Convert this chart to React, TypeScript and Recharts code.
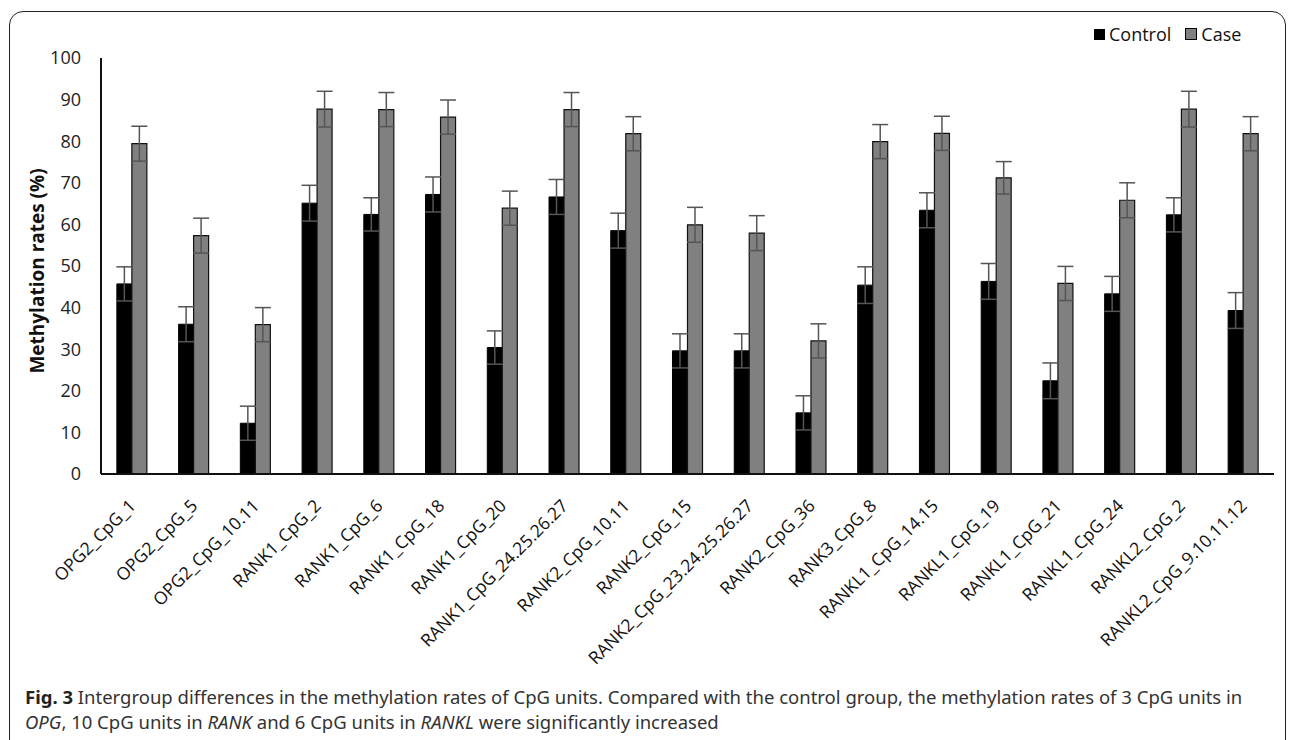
import React from 'react';
import { BarChart, Bar, XAxis, YAxis, ErrorBar } from 'recharts';

const categories = [
  'OPG2_CpG_1', 'OPG2_CpG_5', 'OPG2_CpG_10.11', 'RANK1_CpG_2', 'RANK1_CpG_6', 'RANK1_CpG_18',
  'RANK1_CpG_20', 'RANK1_CpG_24.25.26.27', 'RANK2_CpG_10.11', 'RANK2_CpG_15', 'RANK2_CpG_23.24.25.26.27',
  'RANK2_CpG_36', 'RANK3_CpG_8', 'RANKL1_CpG_14.15', 'RANKL1_CpG_19', 'RANKL1_CpG_21', 'RANKL1_CpG_24',
  'RANKL2_CpG_2', 'RANKL2_CpG_9.10.11.12',
];
const controlValues = [45.7, 36.0, 12.2, 65.1, 62.4, 67.2, 30.4, 66.6, 58.5, 29.6, 29.6, 14.7, 45.4, 63.4, 46.3, 22.4, 43.3, 62.3, 39.3];
const caseValues = [79.4, 57.3, 35.9, 87.7, 87.6, 85.8, 63.9, 87.6, 81.8, 59.9, 57.9, 32.0, 79.9, 81.9, 71.2, 45.8, 65.8, 87.7, 81.8];
const controlErrors = [4.1, 4.2, 4.1, 4.3, 4.0, 4.2, 4.0, 4.2, 4.2, 4.1, 4.1, 4.1, 4.4, 4.2, 4.3, 4.3, 4.2, 4.1, 4.3];
const caseErrors = [4.2, 4.2, 4.1, 4.3, 4.1, 4.1, 4.1, 4.1, 4.1, 4.2, 4.2, 4.1, 4.1, 4.1, 3.9, 4.1, 4.2, 4.3, 4.1];
const yTicks = [0, 10, 20, 30, 40, 50, 60, 70, 80, 90, 100];
const seriesNames = ['Control', 'Case'];

const data = categories.map((name, i) => ({
  name,
  control: controlValues[i],
  controlErr: controlErrors[i],
  case: caseValues[i],
  caseErr: caseErrors[i],
}));

const FONT = '"Open Sans", "Noto Sans", sans-serif';

const XTick = (props: any) => {
  const { x, y, payload } = props;
  const ax = x + 5;
  const ay = y + 25;
  return (
    <text
      x={ax}
      y={ay}
      transform={`rotate(-45 ${ax} ${ay})`}
      textAnchor="end"
      fontSize={17.5}
      fontFamily={FONT}
      fill="#111"
    >
      {payload.value}
    </text>
  );
};

const YLabel = () => (
  <text
    x={44}
    y={271}
    transform="rotate(-90 44 271)"
    textAnchor="middle"
    fontSize={19}
    fontWeight="bold"
    fontFamily={FONT}
    fill="#111"
  >
    Methylation rates (%)
  </text>
);

export default function App() {
  return (
    <div style={{ position: 'fixed', left: 0, top: 0, width: 1290, height: 740, background: '#fff', overflow: 'hidden' }}>
      <div
        style={{
          position: 'absolute',
          left: 9,
          top: 11,
          width: 1277,
          height: 780,
          border: '1.5px solid #222',
          borderRadius: 14,
          boxSizing: 'border-box',
        }}
      />
      <div
        style={{
          position: 'absolute',
          left: 1094,
          top: 22,
          display: 'flex',
          alignItems: 'center',
          fontFamily: FONT,
          fontSize: 18,
          color: '#111',
        }}
      >
        <span style={{ width: 11, height: 11, background: '#000', display: 'inline-block', marginRight: 4 }} />
        <span style={{ marginRight: 14 }}>{seriesNames[0]}</span>
        <span style={{ width: 10, height: 10, background: '#808080', border: '1px solid #000', display: 'inline-block', marginRight: 4 }} />
        <span>{seriesNames[1]}</span>
      </div>
      <div style={{ position: 'absolute', left: 0, top: 0 }}>
        <BarChart
          width={1290}
          height={740}
          data={data}
          margin={{ top: 58, right: 16, left: 1, bottom: 66 }}
          barCategoryGap="25.7%"
          barGap={0}
        >
          <XAxis
            dataKey="name"
            interval={0}
            height={200}
            tick={<XTick />}
            tickLine={false}
            axisLine={{ stroke: '#111', strokeWidth: 2 }}
          />
          <YAxis
            width={100}
            domain={[0, 100]}
            ticks={yTicks}
            interval={0}
            tickLine={false}
            tickMargin={14}
            axisLine={{ stroke: '#111', strokeWidth: 2 }}
            tick={{ fontSize: 18, fontFamily: FONT, fill: '#222' }}
            label={<YLabel />}
          />
          <Bar dataKey="control" name={seriesNames[0]} fill="#000" stroke="#000" strokeWidth={1} isAnimationActive={false}>
            <ErrorBar dataKey="controlErr" direction="y" width={8} stroke="#555" strokeWidth={1.5} />
          </Bar>
          <Bar dataKey="case" name={seriesNames[1]} fill="#808080" stroke="#111" strokeWidth={1.2} isAnimationActive={false}>
            <ErrorBar dataKey="caseErr" direction="y" width={8} stroke="#555" strokeWidth={1.5} />
          </Bar>
        </BarChart>
      </div>
      <div
        style={{
          position: 'absolute',
          left: 25,
          top: 684,
          width: 1260,
          fontFamily: '"Noto Sans", "Open Sans", sans-serif',
          fontSize: 18.5,
          lineHeight: '25px',
          color: '#333',
          whiteSpace: 'nowrap',
        }}
      >
        <b style={{ color: '#222' }}>Fig. 3</b> Intergroup differences in the methylation rates of CpG units. Compared with the control group, the methylation rates of 3 CpG units in
        <br />
        <i>OPG</i>, 10 CpG units in <i>RANK</i> and 6 CpG units in <i>RANKL</i> were significantly increased
      </div>
    </div>
  );
}
